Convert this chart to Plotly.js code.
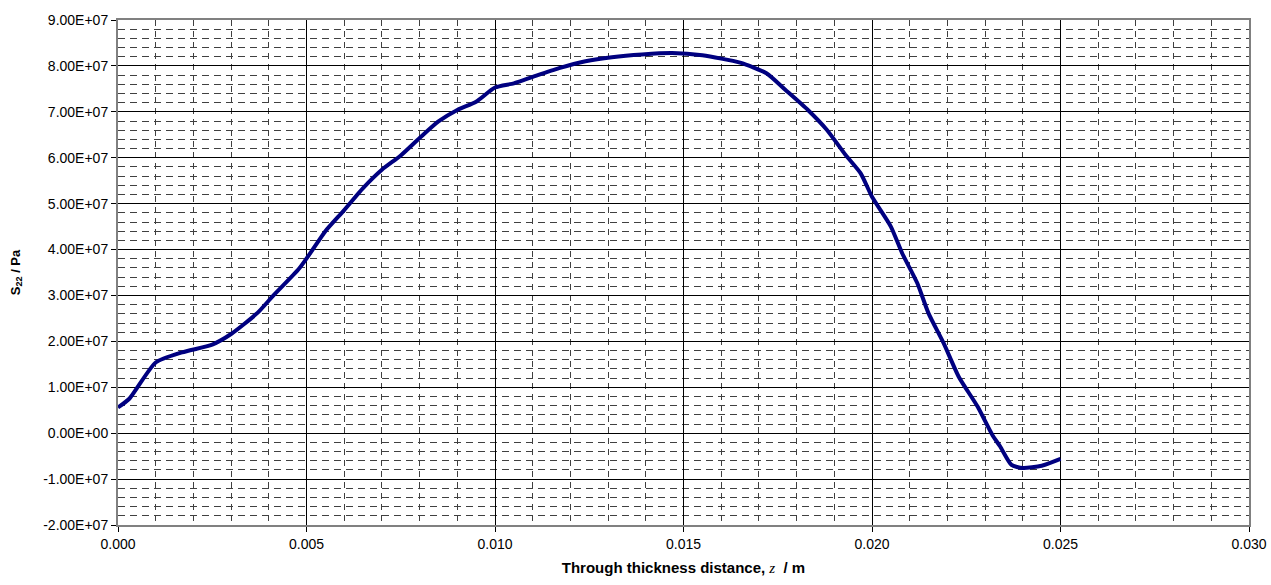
<!DOCTYPE html>
<html>
<head>
<meta charset="utf-8">
<script src="https://cdn.plot.ly/plotly-3.0.1.min.js"></script>
<style>
html,body{margin:0;padding:0;background:#fff;}
#chart{width:1271px;height:585px;}
</style>
</head>
<body>
<div id="chart"></div>
<script>
// Through-thickness distance z (m)
var zValues = [0, 0.0003, 0.001, 0.0017, 0.0025, 0.003, 0.0037, 0.0041, 0.0048, 0.0051,
  0.0055, 0.006, 0.0065, 0.007, 0.0075, 0.008, 0.0085, 0.009, 0.0095, 0.01,
  0.0105, 0.011, 0.0117, 0.0124, 0.0131, 0.0139, 0.0147, 0.0155, 0.0165, 0.0172,
  0.0177, 0.0183, 0.0188, 0.0193, 0.0197, 0.02, 0.0205, 0.0208, 0.0212, 0.0215,
  0.0219, 0.0223, 0.0228, 0.0232, 0.0234, 0.0237, 0.024, 0.0245, 0.025];
// S22 stress (Pa)
var s22Values = [5.6e6, 7.5e6, 15.4e6, 17.6e6, 19.3e6, 21.6e6, 26.2e6, 29.8e6, 35.8e6, 39.2e6,
  44.0e6, 48.6e6, 53.4e6, 57.4e6, 60.5e6, 64.3e6, 67.9e6, 70.4e6, 72.2e6, 75.3e6,
  76.2e6, 77.6e6, 79.5e6, 81.0e6, 81.9e6, 82.5e6, 82.8e6, 82.3e6, 80.7e6, 78.4e6,
  74.8e6, 70.4e6, 66.1e6, 60.6e6, 56.6e6, 51.5e6, 45.0e6, 39.2e6, 32.7e6, 26.1e6,
  19.6e6, 12.3e6, 5.8e6, -0.5e6, -2.9e6, -6.9e6, -7.6e6, -7.1e6, -5.6e6];
// Axis ticks
var xTickVals = [0, 0.005, 0.010, 0.015, 0.020, 0.025, 0.030];
var yTickVals = [-2e7, -1e7, 0, 1e7, 2e7, 3e7, 4e7, 5e7, 6e7, 7e7, 8e7, 9e7];

function excelSci(v) {
  var s = v.toExponential(2).toUpperCase(); // e.g. 9.00E+7
  var parts = s.split('E');
  var sign = parts[1].charAt(0);
  var exp = parts[1].slice(1);
  if (exp.length < 2) exp = '0' + exp;
  return parts[0] + 'E' + sign + exp;
}
var yTickText = yTickVals.map(excelSci);
var xTickText = xTickVals.map(function (v) { return v.toFixed(3); });

var trace = {
  x: zValues,
  y: s22Values,
  type: 'scatter',
  mode: 'lines',
  line: {color: '#000080', width: 4, shape: 'spline', smoothing: 0.6},
  hoverinfo: 'x+y'
};

var font = 'Liberation Sans, Arial, sans-serif';

var layout = {
  width: 1271,
  height: 585,
  margin: {l: 118, r: 22, t: 20, b: 60},
  paper_bgcolor: '#ffffff',
  plot_bgcolor: '#ffffff',
  showlegend: false,
  font: {family: font, size: 14, color: '#000'},
  xaxis: {
    range: [0, 0.030],
    tickvals: xTickVals,
    ticktext: xTickText,
    ticks: 'outside',
    ticklen: 5,
    tickcolor: '#000',
    tickfont: {family: font, size: 14, color: '#000'},
    showgrid: true,
    gridcolor: '#000',
    gridwidth: 1,
    zeroline: false,
    showline: true,
    linecolor: '#808080',
    linewidth: 2,
    mirror: true,
    minor: {dtick: 0.001, tick0: 0, showgrid: true, gridcolor: '#404040', gridwidth: 1, griddash: '6px,5px', ticks: ''},
    title: {
      text: "<b>Through thickness distance, <span style=\"font-family:'Liberation Serif',serif;font-style:italic;font-weight:normal\">z</span>  / m</b>",
      font: {family: font, size: 15, color: '#000'},
      standoff: 12
    }
  },
  yaxis: {
    range: [-2e7, 9e7],
    tickvals: yTickVals,
    ticktext: yTickText,
    ticks: 'outside',
    ticklen: 5,
    tickcolor: '#000',
    tickfont: {family: font, size: 14, color: '#000'},
    showgrid: true,
    gridcolor: '#000',
    gridwidth: 1,
    zeroline: false,
    showline: true,
    linecolor: '#808080',
    linewidth: 2,
    mirror: true,
    minor: {dtick: 2e6, tick0: 0, showgrid: true, gridcolor: '#404040', gridwidth: 1, griddash: '7px,5px', ticks: ''},
    title: {
      text: '<b>S<sub>22</sub> / Pa</b>',
      font: {family: font, size: 13, color: '#000'},
      standoff: 20
    }
  }
};

Plotly.newPlot('chart', [trace], layout, {displayModeBar: false, staticPlot: true});
</script>
</body>
</html>
